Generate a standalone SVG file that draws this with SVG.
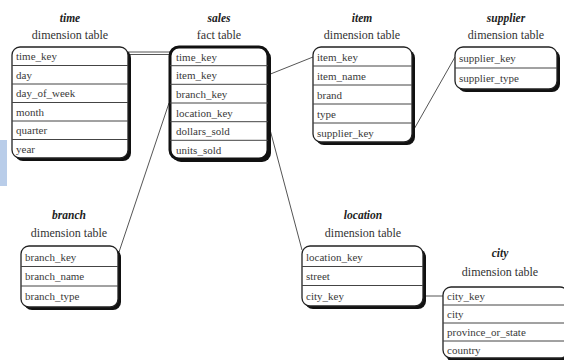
<svg xmlns="http://www.w3.org/2000/svg" width="564" height="360" viewBox="0 0 564 360">
<style>
.sh{fill:#111}
.bx{fill:#fff;stroke:#222;stroke-width:1.3}
.fx{fill:#fff;stroke:#111;stroke-width:3}
.rl{stroke:#444;stroke-width:1}
.rt{font-family:"Liberation Serif",serif;font-size:11px;fill:#3a3a3a}
.tt{font-family:"Liberation Serif",serif;font-size:11.5px;font-weight:bold;font-style:italic;fill:#222;text-anchor:middle}
.st{font-family:"Liberation Serif",serif;font-size:12px;fill:#333;text-anchor:middle}
.cn{stroke:#555;stroke-width:1;fill:none}
</style>
<rect width="564" height="360" fill="#fff"/>
<rect x="0" y="140" width="7" height="46" fill="#b9cde9"/>
<g id="connectors">
<line class="cn" x1="128" y1="52" x2="170" y2="52"/>
<line class="cn" x1="128" y1="54.5" x2="170" y2="54.5"/>
<line class="cn" x1="268" y1="75" x2="313" y2="57"/>
<line class="cn" x1="413" y1="131" x2="455" y2="57"/>
<line class="cn" x1="169" y1="103" x2="119" y2="252"/>
<line class="cn" x1="268" y1="122" x2="302" y2="250"/>
<line class="cn" x1="426" y1="296" x2="443" y2="296"/>
</g>
<g id="time">
<text class="tt" x="70" y="22">time</text>
<text class="st" x="70" y="39">dimension table</text>
<rect class="sh" x="15" y="50" width="116" height="111" rx="8"/>
<rect class="bx" x="12" y="47" width="116" height="111" rx="8"/>
<line class="rl" x1="12" y1="65.5" x2="128" y2="65.5"/>
<line class="rl" x1="12" y1="84" x2="128" y2="84"/>
<line class="rl" x1="12" y1="102.5" x2="128" y2="102.5"/>
<line class="rl" x1="12" y1="121" x2="128" y2="121"/>
<line class="rl" x1="12" y1="139.5" x2="128" y2="139.5"/>
<text class="rt" x="16" y="60">time_key</text>
<text class="rt" x="16" y="78.5">day</text>
<text class="rt" x="16" y="97">day_of_week</text>
<text class="rt" x="16" y="115.5">month</text>
<text class="rt" x="16" y="134">quarter</text>
<text class="rt" x="16" y="152.5">year</text>
</g>
<g id="sales">
<text class="tt" x="219" y="22">sales</text>
<text class="st" x="219" y="39">fact table</text>
<rect class="sh" x="172" y="49" width="99" height="113" rx="9"/>
<rect class="fx" x="170" y="47" width="98" height="112" rx="9"/>
<line class="rl" x1="170" y1="65.7" x2="268" y2="65.7"/>
<line class="rl" x1="170" y1="84.3" x2="268" y2="84.3"/>
<line class="rl" x1="170" y1="103" x2="268" y2="103"/>
<line class="rl" x1="170" y1="121.7" x2="268" y2="121.7"/>
<line class="rl" x1="170" y1="140.3" x2="268" y2="140.3"/>
<text class="rt" x="176" y="60.5">time_key</text>
<text class="rt" x="176" y="79">item_key</text>
<text class="rt" x="176" y="97.5">branch_key</text>
<text class="rt" x="176" y="116.5">location_key</text>
<text class="rt" x="176" y="135">dollars_sold</text>
<text class="rt" x="176" y="153.5">units_sold</text>
</g>
<g id="item">
<text class="tt" x="362" y="22">item</text>
<text class="st" x="362" y="39">dimension table</text>
<rect class="sh" x="316" y="50" width="99" height="95" rx="8"/>
<rect class="bx" x="313" y="47" width="99" height="95" rx="8"/>
<line class="rl" x1="313" y1="66" x2="412" y2="66"/>
<line class="rl" x1="313" y1="85" x2="412" y2="85"/>
<line class="rl" x1="313" y1="104" x2="412" y2="104"/>
<line class="rl" x1="313" y1="123" x2="412" y2="123"/>
<text class="rt" x="317" y="60.5">item_key</text>
<text class="rt" x="317" y="79.5">item_name</text>
<text class="rt" x="317" y="98.5">brand</text>
<text class="rt" x="317" y="117.5">type</text>
<text class="rt" x="317" y="136.5">supplier_key</text>
</g>
<g id="supplier">
<text class="tt" x="506" y="22">supplier</text>
<text class="st" x="506" y="39">dimension table</text>
<rect class="sh" x="458" y="50" width="102" height="42" rx="8"/>
<rect class="bx" x="455" y="47" width="102" height="42" rx="8"/>
<line class="rl" x1="455" y1="68" x2="557" y2="68"/>
<text class="rt" x="459" y="61.5">supplier_key</text>
<text class="rt" x="459" y="82">supplier_type</text>
</g>
<g id="branch">
<text class="tt" x="69" y="219">branch</text>
<text class="st" x="69" y="237">dimension table</text>
<rect class="sh" x="24" y="249" width="97" height="61" rx="8"/>
<rect class="bx" x="21" y="246" width="97" height="61" rx="8"/>
<line class="rl" x1="21" y1="266.5" x2="118" y2="266.5"/>
<line class="rl" x1="21" y1="286" x2="118" y2="286"/>
<text class="rt" x="25" y="260.5">branch_key</text>
<text class="rt" x="25" y="280">branch_name</text>
<text class="rt" x="25" y="300">branch_type</text>
</g>
<g id="location">
<text class="tt" x="363" y="219">location</text>
<text class="st" x="363" y="237">dimension table</text>
<rect class="sh" x="305" y="249" width="121" height="60" rx="8"/>
<rect class="bx" x="302" y="246" width="121" height="60" rx="8"/>
<line class="rl" x1="302" y1="266.5" x2="423" y2="266.5"/>
<line class="rl" x1="302" y1="285.5" x2="423" y2="285.5"/>
<text class="rt" x="306" y="260.5">location_key</text>
<text class="rt" x="306" y="279.5">street</text>
<text class="rt" x="306" y="299.5">city_key</text>
</g>
<g id="city">
<text class="tt" x="500" y="257">city</text>
<text class="st" x="500" y="276">dimension table</text>
<rect class="sh" x="446" y="290" width="125" height="72" rx="8"/>
<rect class="bx" x="443" y="287" width="125" height="71" rx="8"/>
<line class="rl" x1="443" y1="305" x2="568" y2="305"/>
<line class="rl" x1="443" y1="323" x2="568" y2="323"/>
<line class="rl" x1="443" y1="341" x2="568" y2="341"/>
<text class="rt" x="447" y="300">city_key</text>
<text class="rt" x="447" y="318">city</text>
<text class="rt" x="447" y="336">province_or_state</text>
<text class="rt" x="447" y="354">country</text>
</g>
</svg>
